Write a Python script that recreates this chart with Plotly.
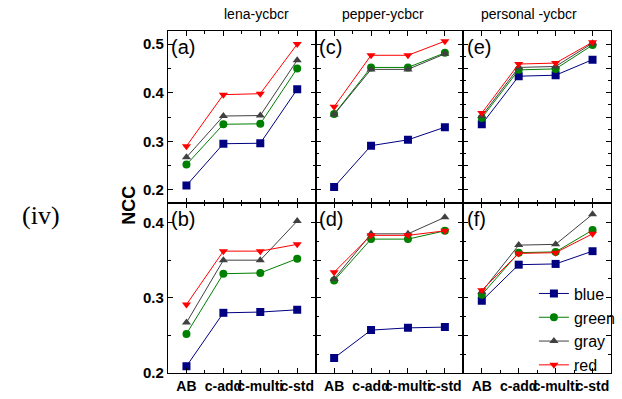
import plotly.graph_objects as go
from plotly.subplots import make_subplots

categories = ["AB", "c-add", "c-multi", "c-std"]
series_names = ["blue", "green", "gray", "red"]

# panel values: (a) lena, (c) pepper, (e) personal (top row); (b), (d), (f) bottom row
lena_top = {
    "blue": [0.209, 0.295, 0.296, 0.407],
    "green": [0.252, 0.335, 0.336, 0.450],
    "gray": [0.267, 0.352, 0.353, 0.467],
    "red": [0.290, 0.396, 0.398, 0.500],
}
pepper_top = {
    "blue": [0.206, 0.291, 0.303, 0.329],
    "green": [0.356, 0.452, 0.452, 0.482],
    "gray": [0.355, 0.448, 0.448, 0.480],
    "red": [0.371, 0.477, 0.477, 0.506],
}
personal_top = {
    "blue": [0.335, 0.434, 0.436, 0.468],
    "green": [0.348, 0.447, 0.449, 0.498],
    "gray": [0.352, 0.452, 0.454, 0.502],
    "red": [0.358, 0.459, 0.461, 0.504],
}
lena_bot = {
    "blue": [0.209, 0.280, 0.281, 0.284],
    "green": [0.252, 0.332, 0.333, 0.352],
    "gray": [0.267, 0.350, 0.350, 0.402],
    "red": [0.291, 0.362, 0.362, 0.371],
}
pepper_bot = {
    "blue": [0.220, 0.257, 0.260, 0.261],
    "green": [0.323, 0.378, 0.378, 0.389],
    "gray": [0.325, 0.385, 0.385, 0.407],
    "red": [0.334, 0.383, 0.383, 0.389],
}
personal_bot = {
    "blue": [0.296, 0.344, 0.345, 0.362],
    "green": [0.304, 0.360, 0.361, 0.390],
    "gray": [0.308, 0.370, 0.371, 0.411],
    "red": [0.310, 0.359, 0.360, 0.385],
}
panel_titles = ["lena-ycbcr", "pepper-ycbcr", "personal -ycbcr"]
panel_letters = [["(a)", "(c)", "(e)"], ["(b)", "(d)", "(f)"]]
top_range = [0.173, 0.527]
bot_range = [0.2, 0.426]

colors = {"blue": "#000080", "green": "#008000", "gray": "#404040", "red": "#ff0000"}
symbols = {"blue": "square", "green": "circle", "gray": "triangle-up", "red": "triangle-down"}

panels = [[lena_top, pepper_top, personal_top], [lena_bot, pepper_bot, personal_bot]]

fig = make_subplots(rows=2, cols=3, horizontal_spacing=0, vertical_spacing=0,
                    row_heights=[172 / 342, 170 / 342])

xidx = list(range(len(categories)))
for r in range(2):
    for c in range(3):
        data = panels[r][c]
        for name in series_names:
            fig.add_trace(go.Scatter(
                x=xidx, y=data[name], mode="lines+markers", name=name,
                line=dict(color=colors[name], width=1),
                marker=dict(symbol=symbols[name], size=8, color=colors[name]),
                showlegend=(r == 1 and c == 2),
            ), row=r + 1, col=c + 1)

FONT = "Liberation Sans, Arial, sans-serif"
xtickfont = dict(family=FONT, size=14, color="black", weight="bold")
ytickfont = dict(family=FONT, size=15, color="black", weight="bold")
for r in range(2):
    for c in range(3):
        fig.update_xaxes(
            range=[-0.5, 3.5], tickmode="array", tickvals=xidx, ticktext=categories,
            showticklabels=(r == 1), tickangle=0, tickfont=xtickfont,
            ticks="inside", ticklen=5, tickcolor="black", showline=True, linecolor="black",
            linewidth=1.2, mirror="ticks", showgrid=False, zeroline=False,
            minor=dict(tickmode="array", tickvals=[-0.5, 0.5, 1.5, 2.5, 3.5], ticks="inside", ticklen=3, tickcolor="black"),
            row=r + 1, col=c + 1)
        fig.update_yaxes(
            range=top_range if r == 0 else bot_range, dtick=0.1 if c == 0 else 0.05, tick0=0,
            showticklabels=(c == 0), tickformat=".1f", tickfont=ytickfont,
            ticks="inside", ticklen=5, tickcolor="black", showline=True, linecolor="black",
            linewidth=1.2, mirror="ticks", showgrid=False, zeroline=False,
            minor=dict(dtick=0.05 if c == 0 else 0.025, tick0=0, ticks="inside", ticklen=3, tickcolor="black"),
            row=r + 1, col=c + 1)

annotations = []
title_x = [0.2, 0.485, 0.814]
for c in range(3):
    annotations.append(dict(text=panel_titles[c], xref="paper", yref="paper", x=title_x[c], y=1.05,
                            xanchor="center", yanchor="middle", showarrow=False,
                            font=dict(family=FONT, size=14, color="black")))
axis_ids = [["", "2", "3"], ["4", "5", "6"]]
for r in range(2):
    for c in range(3):
        a = axis_ids[r][c]
        annotations.append(dict(text=panel_letters[r][c], xref=f"x{a} domain", yref=f"y{a} domain",
                                x=0.01, y=0.985, xanchor="left", yanchor="top", showarrow=False,
                                font=dict(family=FONT, size=20, color="black")))
annotations.append(dict(text="NCC", xref="paper", yref="paper", x=(128 - 168) / 452, y=(373 - 205) / 342,
                        xanchor="center", yanchor="middle", textangle=-90, showarrow=False,
                        font=dict(family=FONT, size=18, color="black", weight="bold")))
annotations.append(dict(text="(iv)", xref="paper", yref="paper", x=(38 - 168) / 452, y=(373 - 215) / 342,
                        xanchor="center", yanchor="middle", showarrow=False,
                        font=dict(family="Liberation Serif, Times New Roman, serif", size=26, color="black")))

fig.update_layout(
    width=622, height=399, margin=dict(l=168, r=2, t=31, b=26),
    paper_bgcolor="white", plot_bgcolor="white",
    annotations=annotations,
    legend=dict(x=0.826, y=0.282, xanchor="left", yanchor="top", bgcolor="rgba(0,0,0,0)",
                font=dict(family=FONT, size=16, color="black"),
                tracegroupgap=0, itemwidth=30),
)

fig.write_html("out.html")
